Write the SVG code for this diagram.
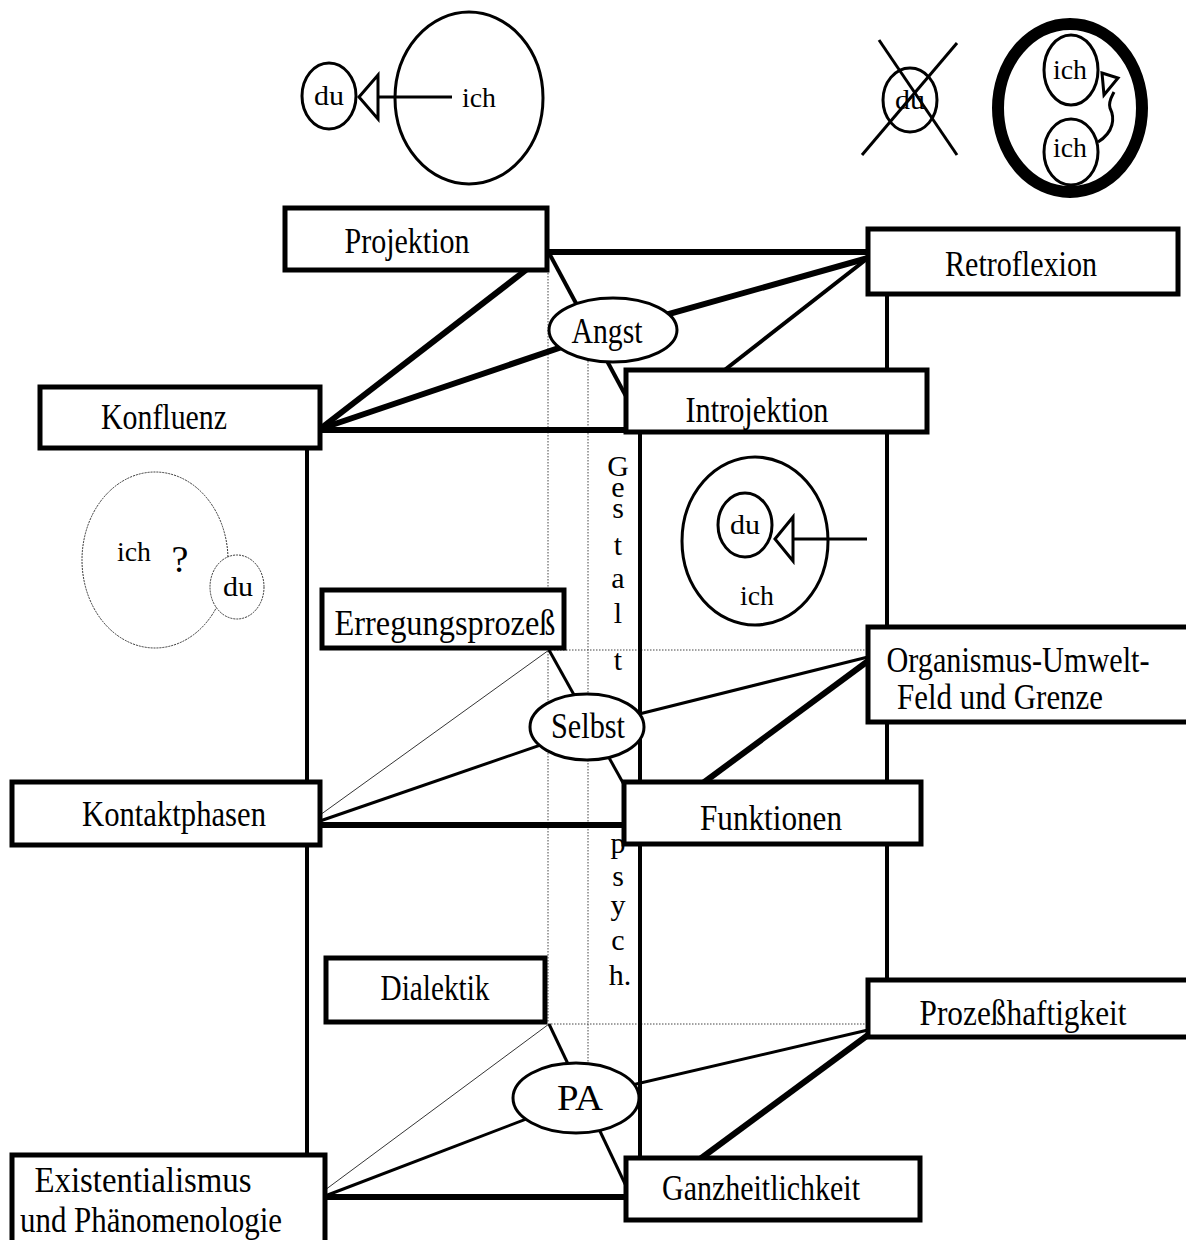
<svg xmlns="http://www.w3.org/2000/svg" width="1186" height="1240" viewBox="0 0 1186 1240">
<style>
text{font-family:"Liberation Serif","Times New Roman",serif;fill:#000}
.lbl{font-size:35px;text-anchor:middle}
.sm{font-size:27px;text-anchor:middle}
.gl{font-size:30px;text-anchor:middle}
.box{fill:#fff;stroke:#000;stroke-width:5}
.ell{fill:#fff;stroke:#000;stroke-width:3}
.th{stroke:#000;stroke-width:6;fill:none}
.md{stroke:#000;stroke-width:4;fill:none}
.mt{stroke:#000;stroke-width:3;fill:none}
.tn{stroke:#000;stroke-width:0.8;fill:none}
.dt{stroke:#444;stroke-width:1;stroke-dasharray:1.5 1.5;fill:none}
.ic{fill:#fff;stroke:#000;stroke-width:3}
.icd{fill:#fff;stroke:#333;stroke-width:1;stroke-dasharray:2 1}
</style>

<!-- Icons -->
<g id="icon-projektion">
  <ellipse class="ic" cx="469" cy="98" rx="74" ry="86"/>
  <ellipse class="ic" cx="329" cy="96" rx="27" ry="33"/>
  <line x1="452" y1="97" x2="378" y2="97" stroke="#000" stroke-width="3"/>
  <polygon points="359,97 378,75 378,119" fill="#fff" stroke="#000" stroke-width="3"/>
  <text class="sm" x="479" y="107" textLength="34" lengthAdjust="spacingAndGlyphs">ich</text>
  <text class="sm" x="329" y="105" textLength="30" lengthAdjust="spacingAndGlyphs">du</text>
</g>
<g id="icon-retroflexion-du">
  <ellipse class="ic" cx="910" cy="100" rx="27" ry="32"/>
  <text class="sm" x="910" y="109" textLength="30" lengthAdjust="spacingAndGlyphs">du</text>
  <line x1="879" y1="40" x2="957" y2="155" stroke="#000" stroke-width="3"/>
  <line x1="957" y1="43" x2="862" y2="155" stroke="#000" stroke-width="3"/>
</g>
<g id="icon-retroflexion">
  <ellipse cx="1070" cy="108" rx="72" ry="84" fill="#fff" stroke="#000" stroke-width="12"/>
  <ellipse class="ic" cx="1071" cy="70" rx="27" ry="35"/>
  <ellipse class="ic" cx="1071" cy="152" rx="27" ry="33"/>
  <text class="sm" x="1070" y="79" textLength="34" lengthAdjust="spacingAndGlyphs">ich</text>
  <text class="sm" x="1070" y="157" textLength="34" lengthAdjust="spacingAndGlyphs">ich</text>
  <path d="M1098,142 C1114,132 1115,118 1110,108 C1108,102 1112,96 1114,92" stroke="#000" stroke-width="3" fill="none"/>
  <polygon points="1102,73 1118,78 1104,95" fill="#fff" stroke="#000" stroke-width="3"/>
</g>
<g id="icon-konfluenz">
  <ellipse class="icd" cx="155" cy="560" rx="73" ry="88"/>
  <ellipse class="icd" cx="237" cy="587" rx="27" ry="32"/>
  <text class="sm" x="134" y="561" textLength="34" lengthAdjust="spacingAndGlyphs">ich</text>
  <text x="180" y="572" style="font-size:38px;text-anchor:middle">?</text>
  <text class="sm" x="238" y="596" textLength="30" lengthAdjust="spacingAndGlyphs">du</text>
</g>
<g id="icon-introjektion">
  <ellipse class="ic" cx="755" cy="541" rx="73" ry="84"/>
  <ellipse class="ic" cx="745" cy="525" rx="27" ry="32"/>
  <line x1="867" y1="539" x2="793" y2="539" stroke="#000" stroke-width="3"/>
  <polygon points="775,539 793,517 793,561" fill="#fff" stroke="#000" stroke-width="3"/>
  <text class="sm" x="745" y="534" textLength="30" lengthAdjust="spacingAndGlyphs">du</text>
  <text class="sm" x="757" y="605" textLength="34" lengthAdjust="spacingAndGlyphs">ich</text>
</g>

<!-- Connectors -->
<g id="connectors">
  <line class="dt" x1="548" y1="252" x2="548" y2="1023"/>
  <line class="dt" x1="588" y1="340" x2="588" y2="1098"/>
  <line class="dt" x1="548" y1="650" x2="868" y2="650"/>
  <line class="dt" x1="548" y1="1024" x2="868" y2="1024"/>
  <line class="md" x1="307" y1="448" x2="307" y2="1157" stroke-width="5"/>
  <line class="md" x1="640" y1="432" x2="640" y2="1160" stroke-width="5"/>
  <line class="md" x1="887" y1="293" x2="887" y2="982" stroke-width="5"/>
  <line class="th" x1="547" y1="252" x2="868" y2="252"/>
  <line class="th" x1="320" y1="430" x2="626" y2="430"/>
  <line class="th" x1="320" y1="825" x2="624" y2="825" stroke-width="7"/>
  <line class="th" x1="325" y1="1197" x2="626" y2="1197" stroke-width="7"/>
  <line class="th" x1="526" y1="270" x2="320" y2="429"/>
  <line class="th" x1="320" y1="429" x2="612" y2="330"/>
  <line class="th" x1="612" y1="330" x2="868" y2="258"/>
  <line class="md" x1="722" y1="372" x2="868" y2="258"/>
  <line class="md" x1="549" y1="253" x2="628" y2="400"/>
  <line class="mt" x1="549" y1="650" x2="627" y2="790"/>
  <line class="mt" x1="587" y1="727" x2="868" y2="657"/>
  <line class="mt" x1="320" y1="821" x2="587" y2="729"/>
  <line class="tn" x1="320" y1="815" x2="549" y2="650"/>
  <line class="th" x1="703" y1="783" x2="868" y2="661"/>
  <line class="mt" x1="549" y1="1024" x2="627" y2="1188"/>
  <line class="mt" x1="576" y1="1098" x2="868" y2="1030"/>
  <line class="mt" x1="325" y1="1196" x2="576" y2="1100"/>
  <line class="tn" x1="325" y1="1190" x2="549" y2="1024"/>
  <line class="th" x1="700" y1="1159" x2="868" y2="1035"/>
</g>

<!-- Gestalt psych. -->
<g id="gestalt-psych">
  <text class="gl" x="618" y="476">G</text>
  <text class="gl" x="618" y="497">e</text>
  <text class="gl" x="618" y="518">s</text>
  <text class="gl" x="618" y="555">t</text>
  <text class="gl" x="618" y="588">a</text>
  <text class="gl" x="618" y="623">l</text>
  <text class="gl" x="618" y="670">t</text>
  <text class="gl" x="618" y="853">p</text>
  <text class="gl" x="618" y="886">s</text>
  <text class="gl" x="618" y="915">y</text>
  <text class="gl" x="618" y="950">c</text>
  <text class="gl" x="620" y="985">h.</text>
</g>

<!-- Nodes -->
<g id="projektion"><rect class="box" x="285" y="208" width="262" height="62"/><text class="lbl" x="407" y="253" textLength="125" lengthAdjust="spacingAndGlyphs">Projektion</text></g>
<g id="retroflexion"><rect class="box" x="868" y="229" width="310" height="65"/><text class="lbl" x="1021" y="276" textLength="152" lengthAdjust="spacingAndGlyphs">Retroflexion</text></g>
<g id="konfluenz"><rect class="box" x="40" y="387" width="280" height="61"/><text class="lbl" x="164" y="429" textLength="126" lengthAdjust="spacingAndGlyphs">Konfluenz</text></g>
<g id="introjektion"><rect class="box" x="626" y="370" width="301" height="62"/><text class="lbl" x="757" y="422" textLength="143" lengthAdjust="spacingAndGlyphs">Introjektion</text></g>
<g id="angst"><ellipse class="ell" cx="613" cy="330" rx="64" ry="32"/><text class="lbl" x="607" y="343" textLength="71" lengthAdjust="spacingAndGlyphs">Angst</text></g>

<g id="erregungsprozess"><rect class="box" x="322" y="590" width="242" height="58"/><text class="lbl" x="445" y="635" textLength="221" lengthAdjust="spacingAndGlyphs">Erregungsprozeß</text></g>
<g id="organismus"><rect class="box" x="868" y="627" width="330" height="95"/><text class="lbl" x="1018" y="672" textLength="263" lengthAdjust="spacingAndGlyphs">Organismus-Umwelt-</text><text class="lbl" x="1000" y="709" textLength="206" lengthAdjust="spacingAndGlyphs">Feld und Grenze</text></g>
<g id="kontaktphasen"><rect class="box" x="12" y="782" width="308" height="63"/><text class="lbl" x="174" y="826" textLength="184" lengthAdjust="spacingAndGlyphs">Kontaktphasen</text></g>
<g id="funktionen"><rect class="box" x="624" y="782" width="297" height="62"/><text class="lbl" x="771" y="830" textLength="142" lengthAdjust="spacingAndGlyphs">Funktionen</text></g>
<g id="selbst"><ellipse class="ell" cx="587" cy="727" rx="57" ry="33"/><text class="lbl" x="588" y="738" textLength="74" lengthAdjust="spacingAndGlyphs">Selbst</text></g>

<g id="dialektik"><rect class="box" x="326" y="958" width="219" height="64"/><text class="lbl" x="435" y="1000" textLength="109" lengthAdjust="spacingAndGlyphs">Dialektik</text></g>
<g id="prozesshaftigkeit"><rect class="box" x="868" y="980" width="330" height="57"/><text class="lbl" x="1023" y="1025" textLength="207" lengthAdjust="spacingAndGlyphs">Prozeßhaftigkeit</text></g>
<g id="existentialismus"><rect class="box" x="12" y="1155" width="313" height="100"/><text class="lbl" x="143" y="1192" textLength="217" lengthAdjust="spacingAndGlyphs">Existentialismus</text><text class="lbl" x="151" y="1232" textLength="262" lengthAdjust="spacingAndGlyphs">und Phänomenologie</text></g>
<g id="ganzheitlichkeit"><rect class="box" x="626" y="1158" width="294" height="62"/><text class="lbl" x="761" y="1200" textLength="198" lengthAdjust="spacingAndGlyphs">Ganzheitlichkeit</text></g>
<g id="pa"><ellipse class="ell" cx="576" cy="1098" rx="63" ry="35"/><text class="lbl" x="580" y="1110" textLength="46" lengthAdjust="spacingAndGlyphs">PA</text></g>
</svg>
